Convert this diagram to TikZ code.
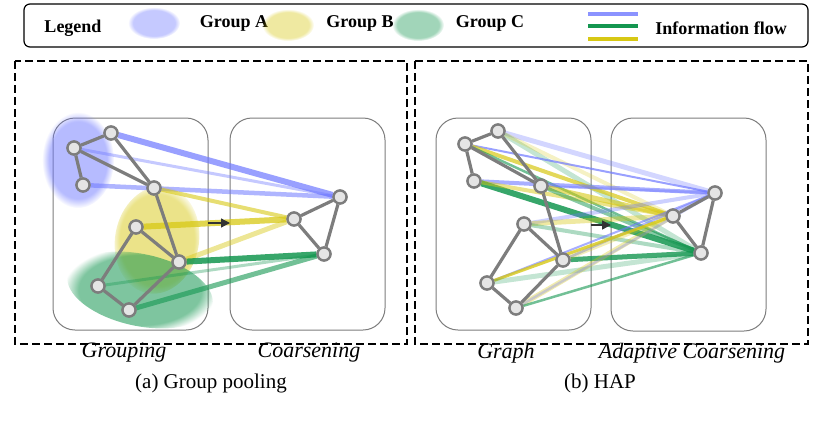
\documentclass[tikz,border=0pt]{standalone}
\usepackage{fontspec}
\setmainfont{Liberation Serif}
\usetikzlibrary{fadings,arrows.meta}
\definecolor{gA}{RGB}{110,120,255}
\definecolor{gB}{RGB}{215,200,20}
\definecolor{gC}{RGB}{20,150,80}
\definecolor{eg}{RGB}{125,125,125}
\tikzset{
  vx/.style={circle,draw=eg,fill=black!10,line width=2.3pt,minimum size=13pt,inner sep=0pt},
  ed/.style={draw=eg,line width=3.2pt},
  panel/.style={draw=eg,line width=1pt,rounded corners=22pt},
  outer/.style={draw=black,line width=1.1pt,dash pattern=on 8pt off 4pt},
  blob/.style={path fading=circle with fuzzy edge 20 percent},
  fl/.style={line width=#1},
  lab/.style={font=\itshape\fontsize{22}{22}\selectfont},
  captxt/.style={font=\fontsize{21}{21}\selectfont},
  leg/.style={font=\bfseries\fontsize{18}{18}\selectfont},
}
\begin{document}
\begin{tikzpicture}[x=1pt,y=-1pt]
\useasboundingbox (0,0) rectangle (830,421);
% legend
\draw[line width=1.2pt,rounded corners=6pt] (24,4) rectangle (808,47);
\node[leg] (legt) at (73,28) {Legend};
\fill[gA,opacity=0.4,blob] (154,23) ellipse (26 and 16);
\node[leg] (la) at (234,23) {Group A};
\fill[gB,opacity=0.4,blob] (288,25) ellipse (26 and 16);
\node[leg] (lb) at (360,23) {Group B};
\fill[gC,opacity=0.4,blob] (418,25) ellipse (26 and 16);
\node[leg] (lc) at (490,23) {Group C};
\draw[gA!80,line width=3.5pt] (588,14) -- (638,14);
\draw[gC,line width=3.5pt] (588,26) -- (638,26);
\draw[gB,line width=3.5pt] (588,39) -- (638,39);
\node[leg] (lf) at (721,28) {Information flow};
% outer dashed
\draw[outer] (15,61) rectangle (407,344);
\draw[outer] (415,61) rectangle (808,344);
% ---------- left
\draw[panel] (53,118) rectangle (208,330);
\draw[panel] (230,118) rectangle (385,330);
\fill[gA,opacity=0.5,blob] (78,160) ellipse (36 and 48);
\fill[gB,opacity=0.5,blob,rotate around={-10:(157,240)}] (157,240) ellipse (42 and 54);
\fill[gC,opacity=0.55,blob,rotate around={-12:(140,290)}] (140,290) ellipse (74 and 36);
\node[vx] (n1) at (111,133) {};
\node[vx] (n2) at (74,148) {};
\node[vx] (n3) at (83,185) {};
\node[vx] (n4) at (154,188) {};
\node[vx] (n5) at (136,227) {};
\node[vx] (n6) at (179,262) {};
\node[vx] (n7) at (98,286) {};
\node[vx] (n8) at (129,310) {};
\node[vx] (c1) at (340,197) {};
\node[vx] (c2) at (294,219) {};
\node[vx] (c3) at (324,254) {};
\draw[gA,fl=6pt,opacity=0.7] (n1) -- (c1);
\draw[gA,fl=3pt,opacity=0.4] (n2) -- (c1);
\draw[gA,fl=4.5pt,opacity=0.55] (n3) -- (c1);
\draw[gB,fl=4pt,opacity=0.6] (n4) -- (c2);
\draw[gB,fl=6pt,opacity=0.75] (n5) -- (c2);
\draw[gB,fl=5pt,opacity=0.45] (n6) -- (c2);
\draw[gC,fl=6pt,opacity=0.85] (n6) -- (c3);
\draw[gC,fl=3pt,opacity=0.35] (n7) -- (c3);
\draw[gC,fl=5pt,opacity=0.6] (n8) -- (c3);
\draw[ed] (n1)--(n2) (n2)--(n3) (n2)--(n4) (n1)--(n4) (n4)--(n6) (n5)--(n6) (n5)--(n7) (n7)--(n8) (n8)--(n6);
\draw[ed] (c1)--(c2) (c2)--(c3) (c3)--(c1);
\foreach \v in {n1,n2,n3,n4,n5,n6,n7,n8,c1,c2,c3}{\node[vx] at (\v) {};}
\coordinate (al) at (208,223); \coordinate (ar) at (230,223);
\draw[-{Triangle[length=9pt,width=9pt]},line width=1.3pt,black!80] (al) -- (ar);
\node[lab] (tg) at (124,353) {Grouping};
\node[lab] (tc) at (309,353) {Coarsening};
\node[captxt] (ca) at (211,383) {(a) Group pooling};
% ---------- right
\draw[panel] (436,118) rectangle (591,330);
\draw[panel] (611,118) rectangle (766,331);
\node[vx] (m1) at (498,131) {};
\node[vx] (m2) at (465,144) {};
\node[vx] (m3) at (474,181) {};
\node[vx] (m4) at (541,186) {};
\node[vx] (m5) at (524,224) {};
\node[vx] (m6) at (563,260) {};
\node[vx] (m7) at (487,283) {};
\node[vx] (m8) at (516,308) {};
\node[vx] (d1) at (715,193) {};
\node[vx] (d2) at (673,216) {};
\node[vx] (d3) at (701,253) {};
\draw[gA,fl=5pt,opacity=0.3] (m1) -- (d1);
\draw[gC,fl=5pt,opacity=0.25] (m1) -- (d3);
\draw[gB,fl=4pt,opacity=0.25] (m1) -- (d2);
\draw[gA,fl=2pt,opacity=0.7] (m2) -- (d1);
\draw[gB,fl=4pt,opacity=0.7] (m2) -- (d2);
\draw[gC,fl=2.5pt,opacity=0.6] (m2) -- (d3);
\draw[gA,fl=4pt,opacity=0.6] (m3) -- (d1);
\draw[gC,fl=6pt,opacity=0.85] (m3) -- (d3);
\draw[gB,fl=4pt,opacity=0.5] (m3) -- (d2);
\draw[gA,fl=2.5pt,opacity=0.4] (m4) -- (d1);
\draw[gB,fl=5pt,opacity=0.6] (m4) -- (d2);
\draw[gC,fl=4pt,opacity=0.5] (m4) -- (d3);
\draw[gA,fl=4pt,opacity=0.35] (m5) -- (d1);
\draw[gB,fl=5pt,opacity=0.4] (m5) -- (d2);
\draw[gC,fl=4pt,opacity=0.35] (m5) -- (d3);
\draw[gA,fl=2.5pt,opacity=0.5] (m6) -- (d1);
\draw[gC,fl=5pt,opacity=0.8] (m6) -- (d3);
\draw[gB,fl=4pt,opacity=0.3] (m6) -- (d2);
\draw[gA,fl=2pt,opacity=0.6] (m7) -- (d1);
\draw[gB,fl=3pt,opacity=0.8] (m7) -- (d2);
\draw[gC,fl=5pt,opacity=0.25] (m7) -- (d3);
\draw[gB,fl=5pt,opacity=0.35] (m8) -- (d2);
\draw[gC,fl=2.5pt,opacity=0.6] (m8) -- (d3);
\draw[gA,fl=2.5pt,opacity=0.3] (m8) -- (d1);
\draw[ed] (m1)--(m2) (m2)--(m3) (m2)--(m4) (m1)--(m4) (m4)--(m6) (m5)--(m6) (m5)--(m7) (m7)--(m8) (m8)--(m6);
\draw[ed] (d1)--(d2) (d2)--(d3) (d3)--(d1);
\foreach \v in {m1,m2,m3,m4,m5,m6,m7,m8,d1,d2,d3}{\node[vx] at (\v) {};}
\coordinate (bl) at (591,225); \coordinate (br) at (611,225);
\draw[-{Triangle[length=9pt,width=9pt]},line width=1.3pt,black!80] (bl) -- (br);
\node[lab] (tgr) at (506,353) {Graph};
\node[lab] (tac) at (692,353) {Adaptive Coarsening};
\node[captxt] (cb) at (600,383) {(b) HAP};
\end{tikzpicture}
\end{document}
